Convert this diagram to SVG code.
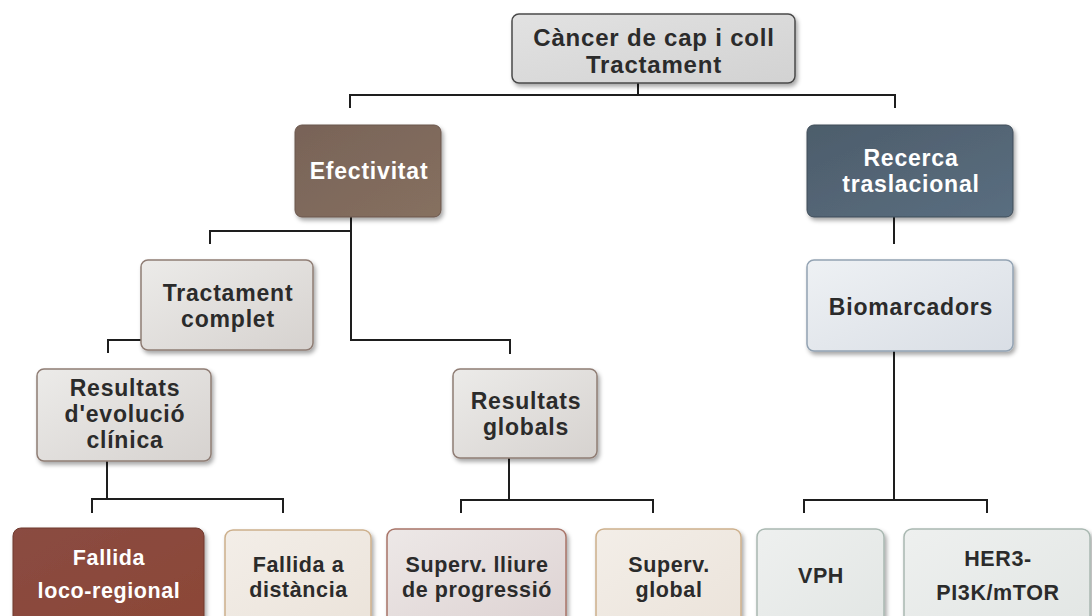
<svg xmlns="http://www.w3.org/2000/svg" width="1092" height="616" viewBox="0 0 1092 616">
<style>
.t{font-family:"Liberation Sans",Arial,sans-serif;font-weight:bold;text-anchor:middle;fill:#2b2b2b}
.w{fill:#ffffff}
.h{font-size:24px;letter-spacing:0.8px}
.m{font-size:23px;letter-spacing:0.8px}
.s{font-size:21.5px;letter-spacing:0.6px}
.c{fill:none;stroke:#1e1e1e;stroke-width:2}
.b{filter:url(#sh)}
</style>
<defs>
<filter id="sh" x="-10%" y="-10%" width="125%" height="130%">
<feDropShadow dx="2" dy="3" stdDeviation="2.2" flood-color="#000" flood-opacity="0.35"/>
</filter>
<linearGradient id="gGray" x1="0" y1="0" x2="1" y2="1"><stop offset="0" stop-color="#e2e2e2"/><stop offset="1" stop-color="#d2d2d2"/></linearGradient>
<linearGradient id="gBrown" x1="0" y1="0" x2="1" y2="1"><stop offset="0" stop-color="#786358"/><stop offset="1" stop-color="#86705f"/></linearGradient>
<linearGradient id="gSlate" x1="0" y1="0" x2="1" y2="1"><stop offset="0" stop-color="#4d5d6b"/><stop offset="1" stop-color="#5a6e80"/></linearGradient>
<linearGradient id="gWarm" x1="0" y1="0" x2="1" y2="1"><stop offset="0" stop-color="#ecebe9"/><stop offset="1" stop-color="#d6d2cf"/></linearGradient>
<linearGradient id="gBlue" x1="0" y1="0" x2="1" y2="1"><stop offset="0" stop-color="#eef1f4"/><stop offset="1" stop-color="#d9dee5"/></linearGradient>
<linearGradient id="gRed" x1="0" y1="0" x2="1" y2="1"><stop offset="0" stop-color="#8a4c42"/><stop offset="1" stop-color="#8c4636"/></linearGradient>
<linearGradient id="gBeige" x1="0" y1="0" x2="1" y2="1"><stop offset="0" stop-color="#f3eee8"/><stop offset="1" stop-color="#ebe3da"/></linearGradient>
<linearGradient id="gPink" x1="0" y1="0" x2="1" y2="1"><stop offset="0" stop-color="#ede8e7"/><stop offset="1" stop-color="#ddd2d2"/></linearGradient>
<linearGradient id="gGreen" x1="0" y1="0" x2="1" y2="1"><stop offset="0" stop-color="#eef0ef"/><stop offset="1" stop-color="#e2e6e4"/></linearGradient>
</defs>
<rect width="1092" height="616" fill="#ffffff"/>
<g id="connectors">
<path class="c" d="M638,80 V95"/>
<path class="c" d="M350,108 V95 H895 V108"/>
<path class="c" d="M351,212 V340 H510 V354"/>
<path class="c" d="M351,231 H210 V244"/>
<path class="c" d="M894,212 V244"/>
<path class="c" d="M160,340 H108 V353"/>
<path class="c" d="M107,455 V499"/>
<path class="c" d="M92,513 V499 H283 V513"/>
<path class="c" d="M509,455 V500"/>
<path class="c" d="M461,513 V500 H653 V513"/>
<path class="c" d="M894,345 V500"/>
<path class="c" d="M804,513 V500 H987 V513"/>
</g>
<g id="n-top">
<rect class="b" x="512" y="14" width="283" height="69" rx="7" fill="url(#gGray)" stroke="#4a4a4a" stroke-width="1.5"/>
<text class="t h" x="654" y="46">Càncer de cap i coll</text>
<text class="t h" x="654" y="73">Tractament</text>
</g>
<g id="n-efectivitat">
<rect class="b" x="295" y="125" width="146" height="92" rx="7" fill="url(#gBrown)" stroke="#6a564c" stroke-width="1"/>
<text class="t w m" x="369" y="179">Efectivitat</text>
</g>
<g id="n-recerca">
<rect class="b" x="807" y="125" width="206" height="92" rx="7" fill="url(#gSlate)" stroke="#3e4c58" stroke-width="1"/>
<text class="t w m" x="911" y="166">Recerca</text>
<text class="t w m" x="911" y="192">traslacional</text>
</g>
<g id="n-tractament">
<rect class="b" x="141" y="260" width="172" height="90" rx="7" fill="url(#gWarm)" stroke="#8f7d74" stroke-width="1.5"/>
<text class="t m" x="228" y="301">Tractament</text>
<text class="t m" x="228" y="327">complet</text>
</g>
<g id="n-biomarcadors">
<rect class="b" x="807" y="260" width="206" height="91" rx="7" fill="url(#gBlue)" stroke="#93a3b3" stroke-width="1.5"/>
<text class="t m" x="911" y="315">Biomarcadors</text>
</g>
<g id="n-evolucio">
<rect class="b" x="37" y="369" width="174" height="92" rx="7" fill="url(#gWarm)" stroke="#8f7d74" stroke-width="1.5"/>
<text class="t m" x="125" y="396">Resultats</text>
<text class="t m" x="125" y="422">d'evolució</text>
<text class="t m" x="125" y="448">clínica</text>
</g>
<g id="n-globals">
<rect class="b" x="453" y="369" width="144" height="89" rx="7" fill="url(#gWarm)" stroke="#8f7d74" stroke-width="1.5"/>
<text class="t m" x="526" y="409">Resultats</text>
<text class="t m" x="526" y="435">globals</text>
</g>
<g id="n-fallida-loco">
<rect class="b" x="13" y="528" width="191" height="100" rx="8" fill="url(#gRed)" stroke="#6e3a2f" stroke-width="1"/>
<text class="t w s" x="109" y="565">Fallida</text>
<text class="t w s" x="109" y="598">loco-regional</text>
</g>
<g id="n-fallida-dist">
<rect class="b" x="225" y="530" width="146" height="98" rx="8" fill="url(#gBeige)" stroke="#cdb08c" stroke-width="1.5"/>
<text class="t s" x="298.5" y="572">Fallida a</text>
<text class="t s" x="298.5" y="597">distància</text>
</g>
<g id="n-superv-lliure">
<rect class="b" x="387" y="529" width="179" height="99" rx="8" fill="url(#gPink)" stroke="#a87468" stroke-width="1.5"/>
<text class="t s" x="477" y="572">Superv. lliure</text>
<text class="t s" x="477" y="597">de progressió</text>
</g>
<g id="n-superv-global">
<rect class="b" x="596" y="529" width="145" height="99" rx="8" fill="url(#gBeige)" stroke="#cdb08c" stroke-width="1.5"/>
<text class="t s" x="669" y="572">Superv.</text>
<text class="t s" x="669" y="597">global</text>
</g>
<g id="n-vph">
<rect class="b" x="757" y="529" width="127" height="99" rx="8" fill="url(#gGreen)" stroke="#a9b8b1" stroke-width="1.5"/>
<text class="t s" x="821" y="583">VPH</text>
</g>
<g id="n-her3">
<rect class="b" x="904" y="529" width="186" height="99" rx="8" fill="url(#gGreen)" stroke="#a9b8b1" stroke-width="1.5"/>
<text class="t s" x="998" y="566">HER3-</text>
<text class="t s" x="998" y="600">PI3K/mTOR</text>
</g>
</svg>
